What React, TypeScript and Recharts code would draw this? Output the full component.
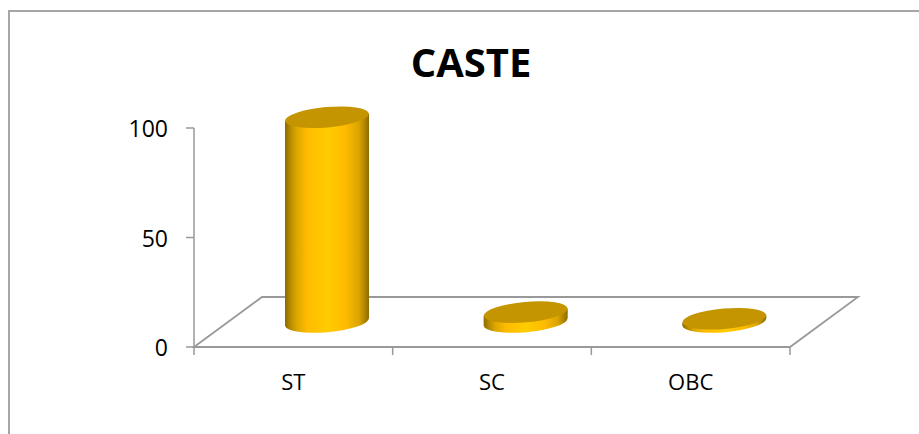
import React from 'react';
import { BarChart, Bar, XAxis, YAxis } from 'recharts';

const categories = ['ST', 'SC', 'OBC'];
const casteValues = [93.5, 4.5, 1.5];
const yTicks = [0, 50, 100];

const chartData = categories.map((name, i) => ({ name, value: casteValues[i] }));

const WIDTH = 919;
const HEIGHT = 434;
const Y_AXIS_W = 40;
const X_AXIS_H = 30;
const margin = { top: 128, right: 129, bottom: 87 - X_AXIS_H, left: 194 - Y_AXIS_W };
const plotWidth = WIDTH - 194 - margin.right;
const plotHeight = HEIGHT - margin.top - 87;
const bandWidth = plotWidth / categories.length;

// floor depth of the fake 3D box
const DEPTH_X = 68;
const DEPTH_Y = 50;
const AXIS = '#999999';
const FONT = "'Open Sans', sans-serif";

// cylinder standing in the middle of the floor depth
const Cylinder = (props: any) => {
  const { x, y, width, height } = props;
  const rx = width / 2;
  const ry = 10.2;
  const tilt = -5;
  const cx = x + rx + DEPTH_X / 2;
  const top = y - DEPTH_Y / 2;
  const bottom = y + height - DEPTH_Y / 2;
  const lift = rx * Math.sin((-tilt * Math.PI) / 180);
  const side = `${cx - rx},${top + lift} ${cx - rx},${bottom + lift} ${cx + rx},${bottom - lift} ${cx + rx},${top - lift}`;
  return (
    <g>
      <ellipse cx={cx} cy={bottom} rx={rx} ry={ry} fill="url(#cylBody)" transform={`rotate(${tilt} ${cx} ${bottom})`} />
      <polygon points={side} fill="url(#cylBody)" />
      <ellipse cx={cx} cy={top} rx={rx} ry={ry} fill="#c49500" transform={`rotate(${tilt} ${cx} ${top})`} />
    </g>
  );
};

const CategoryTick = (props: any) => {
  const { x, y, index, payload } = props;
  const left = x - bandWidth / 2;
  return (
    <g>
      <line x1={left} x2={left} y1={y - 8} y2={y} stroke={AXIS} strokeWidth={1.5} />
      {index === categories.length - 1 && (
        <line x1={x + bandWidth / 2} x2={x + bandWidth / 2} y1={y - 8} y2={y} stroke={AXIS} strokeWidth={1.5} />
      )}
      <text x={x} y={y + 35} textAnchor="middle" fontFamily={FONT} fontSize={22} fill="#000">
        {payload.value}
      </text>
    </g>
  );
};

const ValueTick = (props: any) => {
  const { x, y, payload } = props;
  return (
    <g>
      <line x1={x} x2={x + 8} y1={y} y2={y} stroke={AXIS} strokeWidth={1.5} />
      <text x={x - 18} y={y + 9} textAnchor="end" fontFamily={FONT} fontSize={23} fill="#000">
        {payload.value}
      </text>
    </g>
  );
};

export default function App() {
  const x0 = 194;
  const y0 = margin.top + plotHeight;
  const floor = `${x0},${y0} ${x0 + DEPTH_X},${y0 - DEPTH_Y} ${x0 + plotWidth + DEPTH_X},${y0 - DEPTH_Y} ${x0 + plotWidth},${y0}`;
  return (
    <div style={{ position: 'absolute', left: 0, top: 0, width: WIDTH, height: HEIGHT, background: '#fff', overflow: 'hidden' }}>
      <div
        style={{
          position: 'absolute',
          left: 8,
          top: 10,
          width: WIDTH - 8,
          height: HEIGHT - 10,
          borderTop: '2px solid #a6a6a6',
          borderLeft: '2px solid #a6a6a6',
          boxSizing: 'border-box',
        }}
      />
      <div
        style={{
          position: 'absolute',
          left: 0,
          top: 38,
          width: 942,
          textAlign: 'center',
          fontFamily: FONT,
          fontWeight: 700,
          fontSize: 40,
          lineHeight: '48px',
          color: '#000',
        }}
      >
        CASTE
      </div>
      <div style={{ position: 'absolute', left: 0, top: 0 }}>
        <BarChart width={WIDTH} height={HEIGHT} data={chartData} margin={margin} barSize={84}>
          <defs>
            <linearGradient id="cylBody" x1="0" y1="0" x2="1" y2="0">
              <stop offset="0%" stopColor="#8a6a00" />
              <stop offset="6%" stopColor="#b58a00" />
              <stop offset="14%" stopColor="#dca800" />
              <stop offset="26%" stopColor="#ffbb00" />
              <stop offset="50%" stopColor="#ffcc00" />
              <stop offset="72%" stopColor="#ffbb00" />
              <stop offset="88%" stopColor="#d9a500" />
              <stop offset="95%" stopColor="#b08400" />
              <stop offset="100%" stopColor="#8a6a00" />
            </linearGradient>
          </defs>
          <polygon points={floor} fill="#fff" stroke={AXIS} strokeWidth={1.8} />
          <XAxis dataKey="name" height={X_AXIS_H} axisLine={false} tickLine={false} tick={<CategoryTick />} interval={0} />
          <YAxis
            domain={[0, 100]}
            ticks={yTicks}
            axisLine={{ stroke: AXIS, strokeWidth: 1.5 }}
            tickLine={false}
            tick={<ValueTick />}
            width={Y_AXIS_W}
          />
          <Bar dataKey="value" isAnimationActive={false} shape={<Cylinder />} />
        </BarChart>
      </div>
    </div>
  );
}
